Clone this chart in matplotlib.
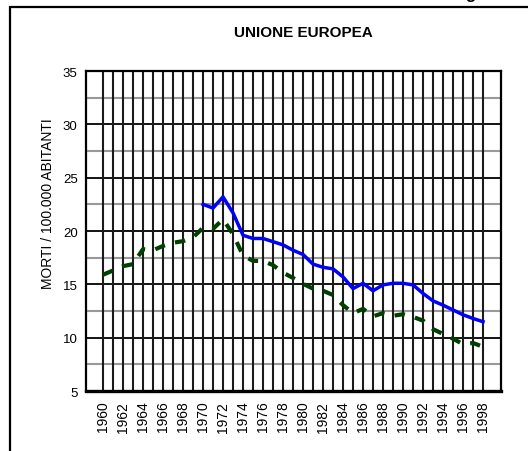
import matplotlib
matplotlib.use("Agg")
import matplotlib.pyplot as plt
from matplotlib.patches import Rectangle

plt.rcParams['font.family'] = ['Liberation Sans', 'DejaVu Sans']

years_a = list(range(1970, 1999))
serie_a = [22.5, 22.15, 23.2, 21.7, 19.6, 19.3, 19.3, 19.0, 18.7, 18.2,
           17.8, 16.9, 16.6, 16.45, 15.7, 14.6, 15.1, 14.4, 14.95, 15.1,
           15.1, 14.95, 14.15, 13.45, 13.05, 12.6, 12.15, 11.8, 11.5]

years_b = list(range(1960, 1999))
serie_b = [15.9, 16.3, 16.7, 16.9, 18.3, 18.2, 18.6, 18.9, 19.05, 19.4,
           20.3, 20.2, 21.1, 19.7, 17.7, 17.2, 17.2, 16.8, 16.1, 15.6,
           15.05, 14.6, 14.4, 14.0, 13.05, 12.3, 12.7, 12.0, 12.3, 12.05,
           12.2, 11.95, 11.6, 10.8, 10.35, 9.9, 9.4, 9.5, 9.15]

year_labels = list(range(1960, 1999, 2))

fig = plt.figure(figsize=(5.28, 4.52), dpi=100)
ax = fig.add_axes([0.1629, 0.1327, 0.786, 0.708])

# outer frame
fig.patches.append(Rectangle((10 / 528, -0.05), 1.1, 1 - 8 / 452 + 0.05,
                             transform=fig.transFigure, fill=False,
                             edgecolor='black', linewidth=1.6, clip_on=False))

ax.set_xlim(1958.3, 1999.8)
ax.set_ylim(5, 35)

for y in [7.5, 12.5, 17.5, 22.5, 27.5, 32.5]:
    ax.axhline(y, color='#999999', lw=1.5, zorder=1)
for y in [10, 15, 20, 25, 30]:
    ax.axhline(y, color='black', lw=1.3, zorder=1)
for x in range(1960, 1999):
    ax.axvline(x, color='#1a1a1a', lw=1.5, zorder=1)

ax.plot(years_b, serie_b, color='#004000', lw=3, dashes=(2.5, 2.5), zorder=3)
ax.plot(years_a, serie_a, color='#0000ff', lw=2.5, zorder=4)

ax.set_yticks([5, 10, 15, 20, 25, 30, 35])
ax.set_xticks(year_labels)
ax.set_xticklabels([str(y) for y in year_labels], rotation=90, fontsize=10)
ax.tick_params(length=0)
ax.tick_params(axis='y', pad=6, labelsize=9.5)
ax.tick_params(axis='x', pad=7)

for s in ax.spines.values():
    s.set_linewidth(1.6)
ax.spines['bottom'].set_linewidth(2.4)

fig.text(48 / 528, 1 - 204 / 452, 'MORTI / 100.000 ABITANTI', rotation=90,
         ha='center', va='center', fontsize=10)
fig.text(303 / 528, 1 - 33 / 452, 'UNIONE EUROPEA', ha='center', va='center',
         fontsize=11, fontweight='bold')
fig.text(475 / 528, 1 + 1 / 452, 'g', ha='right', va='baseline', fontsize=12,
         fontweight='bold')

fig.savefig('out.png', dpi=100)
